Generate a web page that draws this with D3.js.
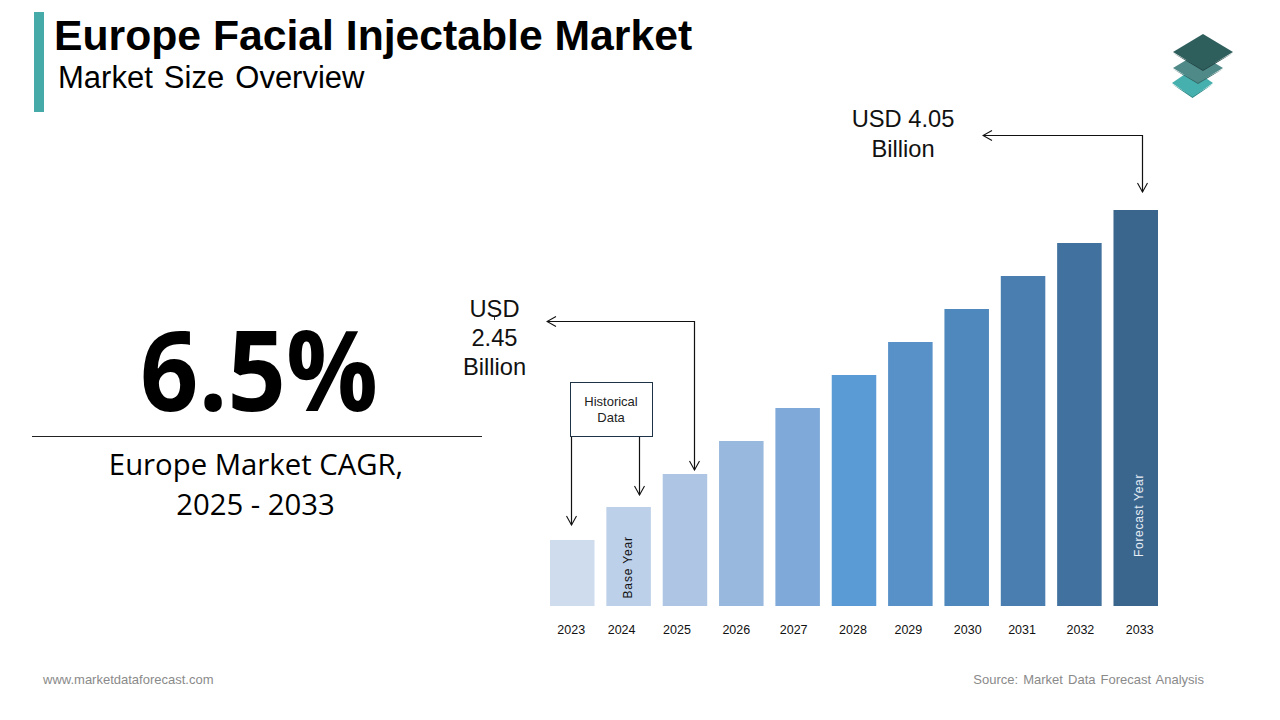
<!DOCTYPE html>
<html>
<head>
<meta charset="utf-8">
<script src="https://cdn.jsdelivr.net/npm/d3@7"></script>
<style>
  html, body { margin: 0; padding: 0; background: #fff; }
  svg { display: block; font-family: "Liberation Sans", Arial, sans-serif; }
</style>
</head>
<body>
<div class="chart"></div>
<script>
const width = 1280;
const height = 720;

const years = ["2023", "2024", "2025", "2026", "2027", "2028", "2029", "2030", "2031", "2032", "2033"];
const marketSize = [2.05, 2.25, 2.45, 2.65, 2.85, 3.05, 3.25, 3.45, 3.65, 3.85, 4.05];
const barColors = ["#cfdcee", "#bdd0e9", "#aec6e4", "#98b8de", "#7fa9d9", "#5b9bd5", "#5890c8", "#4f88bc", "#4a7eb0", "#41729f", "#3a668e"];

const svg = d3.select(".chart")
    .append("svg")
    .attr("width", width)
    .attr("height", height)
    .attr("viewBox", [0, 0, width, height]);

// scales
const x = d3.scaleBand()
    .domain(years)
    .range([550, 1158])
    .paddingInner(0.21)
    .paddingOuter(0);
const y = d3.scaleLinear()
    .domain([1.65, 4.05])
    .range([606, 210]);

// header
svg.append("rect").attr("x", 34).attr("y", 12).attr("width", 10).attr("height", 100).attr("fill", "#45aaa8");
svg.append("text").attr("x", 54).attr("y", 50)
    .attr("font-size", 42.7).attr("font-weight", "bold")
    .text("Europe Facial Injectable Market");
svg.append("text").attr("x", 58).attr("y", 88)
    .attr("font-size", 31).attr("word-spacing", 2.5)
    .text("Market Size Overview");

// logo, three stacked diamonds
const logo = [
    {cx: 1192.5, cy: 83, rx: 20.5, ry: 14, top: "#45b0ae", side: "#2f8886"},
    {cx: 1198, cy: 68, rx: 25, ry: 15, top: "#4f8a88", side: "#356866"},
    {cx: 1203, cy: 52, rx: 30, ry: 18, top: "#2f5f5d", side: "#234746"}
];
logo.forEach(d => {
    svg.append("path")
        .attr("d", `M${d.cx - d.rx},${d.cy + 1}L${d.cx},${d.cy + d.ry + 1}L${d.cx + d.rx},${d.cy + 1}L${d.cx},${d.cy + d.ry - 1}Z`)
        .attr("fill", d.side);
    svg.append("path")
        .attr("d", `M${d.cx},${d.cy - d.ry}L${d.cx + d.rx},${d.cy}L${d.cx},${d.cy + d.ry}L${d.cx - d.rx},${d.cy}Z`)
        .attr("fill", d.top);
});

// left panel
svg.append("text").attr("x", 140).attr("y", 411)
    .attr("font-family", "'Open Sans'").attr("font-weight", "bold").attr("font-size", 112)
    .attr("textLength", 238).attr("lengthAdjust", "spacingAndGlyphs")
    .text("6.5%");
svg.append("line").attr("x1", 32).attr("x2", 482).attr("y1", 436.5).attr("y2", 436.5).attr("stroke", "#222");
svg.append("text").attr("x", 256).attr("y", 475).attr("text-anchor", "middle")
    .attr("font-family", "'Open Sans'").attr("font-size", 29.3)
    .text("Europe Market CAGR,");
svg.append("text").attr("x", 255.5).attr("y", 515).attr("text-anchor", "middle")
    .attr("font-family", "'Open Sans'").attr("font-size", 29.3)
    .text("2025 - 2033");

// bars
svg.append("g")
    .selectAll("rect")
    .data(years)
    .join("rect")
    .attr("x", d => x(d))
    .attr("width", x.bandwidth())
    .attr("y", (d, i) => y(marketSize[i]))
    .attr("height", (d, i) => y.range()[0] - y(marketSize[i]))
    .attr("fill", (d, i) => barColors[i]);

// year labels, the source has them drifting off the bar centres
const labelNudge = [-1, -7, -8, -5, -4, -1, -2, 1, -1, 1, 4];
const axis = d3.axisBottom(x).tickSize(0).tickPadding(0);
const axisG = svg.append("g").attr("transform", "translate(0,625)").call(axis);
axisG.select(".domain").remove();
axisG.selectAll("text")
    .attr("font-family", "'Liberation Sans'")
    .attr("font-size", 12.5)
    .attr("fill", "#111")
    .attr("dx", (d, i) => labelNudge[i]);

// rotated bar labels
function barLabel(year, offset, bottom, spacing, text, color) {
    const cx = x(year) + x.bandwidth() / 2 + offset;
    svg.append("text")
        .attr("transform", `translate(${cx},${bottom}) rotate(-90)`)
        .attr("font-size", 12).attr("letter-spacing", spacing).attr("dy", "0.35em")
        .attr("fill", color)
        .text(text);
}
barLabel("2024", -0.5, 598.5, 0.85, "Base Year", "#111");
barLabel("2033", 3.5, 557, 0.7, "Forecast Year", "#e8eef5");

// callout arrows
const defs = svg.append("defs");
defs.append("marker")
    .attr("id", "open-arrow")
    .attr("viewBox", "-10 -6 11 12")
    .attr("refX", 0).attr("refY", 0)
    .attr("markerWidth", 11).attr("markerHeight", 12)
    .attr("markerUnits", "userSpaceOnUse")
    .attr("orient", "auto")
    .append("path")
    .attr("d", "M-9,-5L0,0L-9,5")
    .attr("fill", "none").attr("stroke", "#111").attr("stroke-width", 1.1);
defs.append("marker")
    .attr("id", "open-arrow-start")
    .attr("viewBox", "-1 -6 11 12")
    .attr("refX", 0).attr("refY", 0)
    .attr("markerWidth", 11).attr("markerHeight", 12)
    .attr("markerUnits", "userSpaceOnUse")
    .attr("orient", "auto")
    .append("path")
    .attr("d", "M9,-5L0,0L9,5")
    .attr("fill", "none").attr("stroke", "#111").attr("stroke-width", 1.1);

function callout(points, both) {
    const p = svg.append("path")
        .attr("d", d3.line()(points))
        .attr("fill", "none").attr("stroke", "#111").attr("stroke-width", 1.2)
        .attr("marker-end", "url(#open-arrow)");
    if (both) p.attr("marker-start", "url(#open-arrow-start)");
}

// the arrow tips sit a few pixels above the bar they point at
const tip = (year, gap) => y(marketSize[years.indexOf(year)]) - gap;
callout([[983, 135.5], [1142.5, 135.5], [1142.5, tip("2033", 18)]], true);
callout([[547, 321.5], [694.5, 321.5], [694.5, tip("2025", 4)]], true);
callout([[571.5, 437], [571.5, tip("2023", 15)]], false);
callout([[639.5, 437], [639.5, tip("2024", 12)]], false);

// value labels
function multiline(cx, first, lineGap, size, lines, color) {
    svg.append("g").selectAll("text").data(lines).join("text")
        .attr("x", cx)
        .attr("y", (d, i) => first + i * lineGap)
        .attr("text-anchor", "middle")
        .attr("font-size", size)
        .attr("fill", color)
        .text(d => d);
}
multiline(903, 127, 29.5, 23.7, ["USD 4.05", "Billion"], "#111");
multiline(494.5, 317, 29, 23.7, ["USD", "2.45", "Billion"], "#111");
// stray tick under the S of USD in the source
svg.append("line").attr("x1", 494.5).attr("x2", 494.5).attr("y1", 317).attr("y2", 320).attr("stroke", "#333");

// historical data box
svg.append("rect").attr("x", 570.5).attr("y", 382.5).attr("width", 82).attr("height", 54)
    .attr("fill", "#fff").attr("stroke", "#1f3347");
multiline(611, 406, 16, 13, ["Historical", "Data"], "#222");

// footer
svg.append("text").attr("x", 43).attr("y", 684)
    .attr("font-size", 13).attr("fill", "#8a8a8a")
    .text("www.marketdataforecast.com");
svg.append("text").attr("x", 1204).attr("y", 684).attr("text-anchor", "end")
    .attr("font-size", 13).attr("word-spacing", 1.5).attr("fill", "#8a8a8a")
    .text("Source: Market Data Forecast Analysis");
</script>
</body>
</html>
